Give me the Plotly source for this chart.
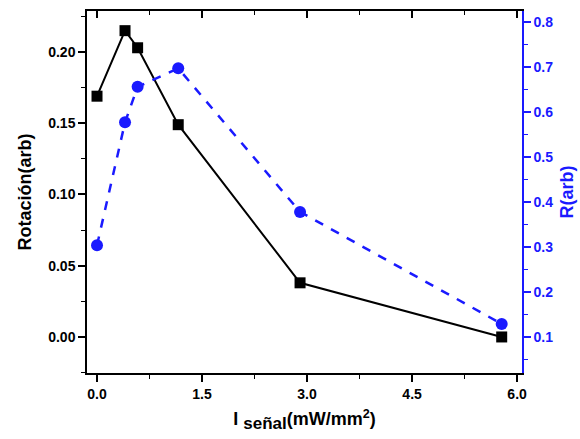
import plotly.graph_objects as go

# Signal intensity (mW/mm^2)
intensity = [0.0, 0.4, 0.58, 1.16, 2.9, 5.78]
# Rotation (arb), left axis
rotacion = [0.169, 0.215, 0.203, 0.149, 0.038, 0.0]
# R (arb), right axis
r_vals = [0.304, 0.577, 0.656, 0.697, 0.378, 0.129]

BLUE = "#1a1aff"
FONT = "Liberation Sans"
NB = "\u00a0"

fig = go.Figure()

fig.add_trace(go.Scatter(
    x=intensity, y=rotacion, mode="lines+markers",
    line=dict(color="black", width=2),
    marker=dict(symbol="square", size=11, color="black"),
    xaxis="x", yaxis="y", showlegend=False,
))
fig.add_trace(go.Scatter(
    x=intensity, y=r_vals, mode="lines+markers",
    line=dict(color=BLUE, width=2.5, dash="dash"),
    marker=dict(symbol="circle", size=12, color=BLUE),
    xaxis="x", yaxis="y2", showlegend=False,
))
# carrier trace for the top (mirrored) axis
fig.add_trace(go.Scatter(
    x=[intensity[0]], y=[rotacion[0]], mode="markers",
    marker=dict(opacity=0), xaxis="x2", yaxis="y",
    showlegend=False, hoverinfo="skip",
))

xr = [-0.143, 6.07]
tickfont = dict(family=FONT, size=14, color="black", weight="bold")
titlefont = dict(family=FONT, size=18, color="black", weight="bold")

fig.update_layout(
    width=580, height=439,
    margin=dict(l=87, r=58, t=11, b=66),
    paper_bgcolor="white", plot_bgcolor="white",
    font=dict(family=FONT),
    xaxis=dict(
        range=xr, tick0=0, dtick=1.5, ticks="outside", ticklen=7,
        tickwidth=1.5, tickcolor="black", showline=True, linecolor="black",
        linewidth=1.5, showgrid=False, zeroline=False, tickformat=".1f",
        tickfont=tickfont, automargin=False,
        minor=dict(dtick=0.75, ticks="outside", ticklen=4, tickcolor="black", tickwidth=1.2),
        title=dict(text="I <sub><span style='font-size:17px'>señal</span></sub>"
                        "(mW/mm<sup>2</sup>)",
                   font=titlefont, standoff=12),
    ),
    xaxis2=dict(
        range=xr, overlaying="x", side="top", tick0=0, dtick=1.5,
        ticks="inside", ticklen=7, tickwidth=1.5, tickcolor="black",
        showline=True, linecolor="black", linewidth=1.5, showgrid=False,
        zeroline=False, showticklabels=False, automargin=False,
        minor=dict(dtick=0.75, ticks="inside", ticklen=4, tickcolor="black", tickwidth=1.2),
    ),
    yaxis=dict(
        range=[-0.0253, 0.2288], tick0=0, dtick=0.05, ticks="outside",
        ticklen=7, tickwidth=1.5, tickcolor="black", showline=True,
        linecolor="black", linewidth=1.5, showgrid=False, zeroline=False,
        tickformat=".2f", tickfont=tickfont, automargin=False,
        minor=dict(dtick=0.025, ticks="outside", ticklen=4, tickcolor="black", tickwidth=1.2),
        title=dict(text="Rotación(arb)" + NB * 10, font=titlefont, standoff=12),
    ),
    yaxis2=dict(
        range=[0.02, 0.8244], overlaying="y", side="right", tick0=0.1,
        dtick=0.1, ticks="outside", ticklen=7, tickwidth=1.5,
        tickcolor=BLUE, showline=True, linecolor=BLUE, linewidth=1.5,
        showgrid=False, zeroline=False, tickformat=".1f", automargin=False,
        tickfont=dict(family=FONT, size=14, color=BLUE, weight="bold"),
        minor=dict(dtick=0.05, ticks="outside", ticklen=4, tickcolor=BLUE, tickwidth=1.2),
        title=dict(text="R(arb)", font=dict(family=FONT, size=18, color=BLUE, weight="bold"),
                   standoff=8),
    ),
)

fig.write_html("out.html")
